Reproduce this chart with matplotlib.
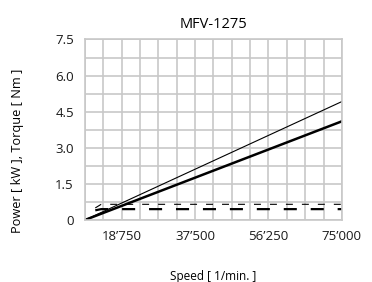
import numpy as np
import matplotlib as mpl
mpl.use('Agg')
import matplotlib.pyplot as plt
from matplotlib.ticker import MultipleLocator, FixedLocator

mpl.rcParams['lines.scale_dashes'] = False
mpl.rcParams['font.family'] = ['Open Sans', 'DejaVu Sans']

# data
speed_line = [9375, 75000]
power_thin = [0.0, 4.92]
power_thick = [0.0, 4.10]
speed_flat = [12000, 13500, 75000]
torque_thin = [0.50, 0.65, 0.65]
torque_thick = [0.40, 0.45, 0.45]

xticks = [18750, 37500, 56250, 75000]
xticklabels = ['18\u2019750', '37\u2019500', '56\u2019250', '75\u2019000']
yticks = [0, 1.5, 3.0, 4.5, 6.0, 7.5]
yticklabels = ['0', '1.5', '3.0', '4.5', '6.0', '7.5']

fig = plt.figure(figsize=(3.72, 2.82), dpi=100)
ax = fig.add_axes([0.2285, 0.22, 0.6905, 0.64])

ax.plot(speed_line, power_thin, color='black', lw=0.8)
ax.plot(speed_line, power_thick, color='black', lw=1.8)
l1, = ax.plot(speed_flat, torque_thin, color='black', lw=0.8)
l1.set_dashes([5, 6.5])
l2, = ax.plot(speed_flat, torque_thick, color='black', lw=1.6)
l2.set_dashes([9.4, 10])

ax.set_xlim(9375, 75000)
ax.set_ylim(0, 7.5)
ax.xaxis.set_major_locator(FixedLocator(xticks))
ax.set_xticklabels(xticklabels)
ax.xaxis.set_minor_locator(MultipleLocator(4687.5))
ax.set_yticks(yticks)
ax.set_yticklabels(yticklabels)
ax.yaxis.set_minor_locator(MultipleLocator(0.75))

ax.grid(True, which='both', color='#c8c8c8', lw=1.2)
ax.set_axisbelow(True)
ax.tick_params(which='both', length=0, labelsize=9.5, labelcolor='#1a1a1a')
ax.tick_params(axis='x', pad=7)
ax.tick_params(axis='y', pad=8)
for s in ['top', 'bottom', 'left', 'right']:
    ax.spines[s].set_color('#c8c8c8')
    ax.spines[s].set_linewidth(1.2)

ax.set_title('MFV-1275', fontsize=10.5, pad=8)
ax.set_xlabel('Speed [ 1/min. ]', fontsize=8.5, labelpad=20)
fig.text(18 / 372, 0.465, 'Power [ kW ], Torque [ Nm ]', fontsize=9.2,
         rotation=90, ha='center', va='center')

fig.savefig('out.png', dpi=100)
